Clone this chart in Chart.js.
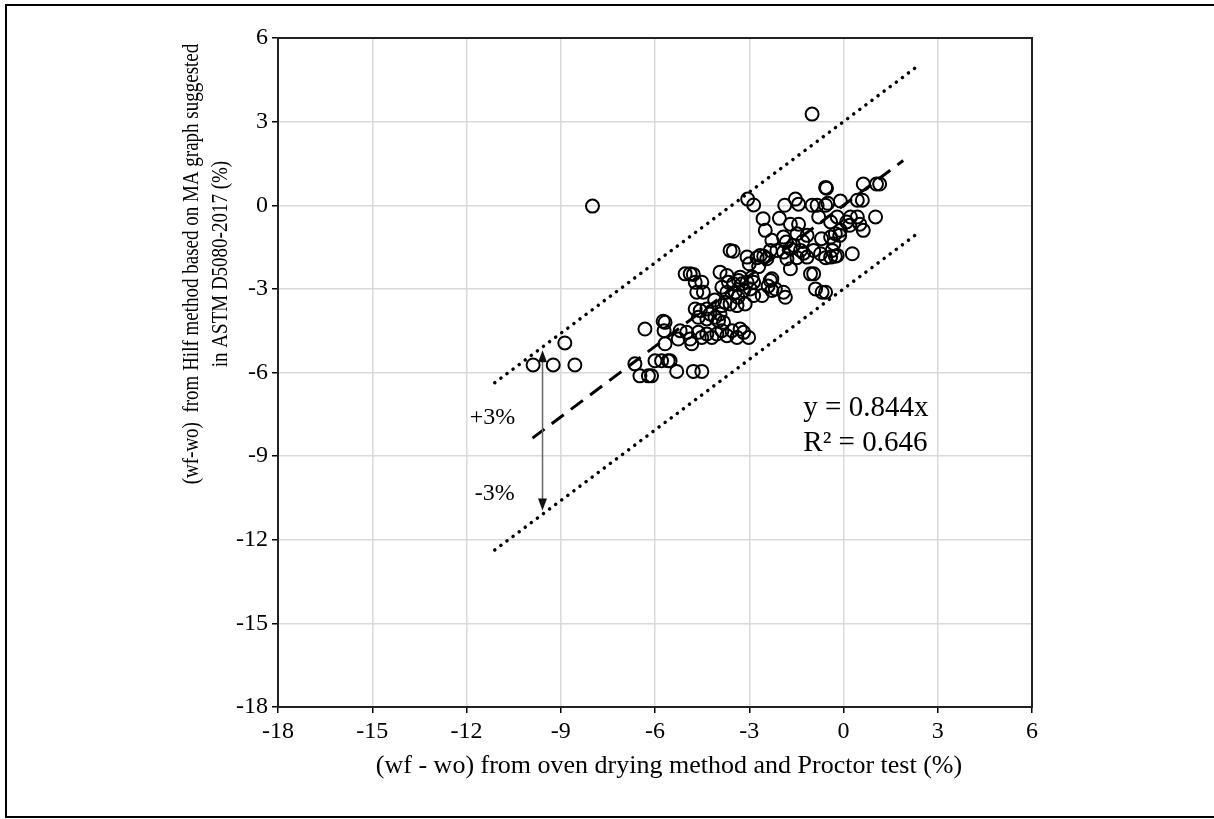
<!DOCTYPE html>
<html>
<head>
<meta charset="utf-8">
<script src="https://cdn.jsdelivr.net/npm/chart.js@4.4.0/dist/chart.umd.min.js"></script>
<style>
    html, body { margin: 0; padding: 0; background: #fff; overflow: hidden; }
    #wrap { position: relative; width: 1214px; height: 819px; }
    #frame { position: absolute; left: 5px; top: 4px; width: 1230px; height: 814px; border: 2px solid #000; box-sizing: border-box; }
</style>
</head>
<body>
<div id="wrap">
    <canvas id="hilfChart"></canvas>
    <div id="frame"></div>
</div>
<script>
// measured pairs: oven drying / Proctor (x) vs Hilf method (y), in %
const ovenDiff = [
    -1.00, -7.99, -3.05, -2.86, -0.57, -0.54, 0.63, 1.05, 1.15, 1.02,
    0.44, 0.60, -0.10, -1.53, -1.43, -1.87, -1.00, -0.84, -0.57, -0.50,
    -2.56, -2.49, -2.04, -1.69, -1.43, -0.79, -0.41, -0.20, 0.22, 0.44,
    0.20, 0.52, 0.63, -2.28, -1.91, -1.48, -1.16, -1.82, -1.59, -0.41,
    -0.31, -0.12, -0.36, -0.20, -3.61, -3.51, -3.07, 0.28, -2.75, -2.65,
    -2.54, -2.33, -2.44, -2.12, -1.91, -1.80, -1.69, -1.37, -1.27, -1.16,
    -1.48, -0.95, -0.73, -0.57, -0.41, -0.26, -1.69, -0.95, -1.05, -2.28,
    -3.93, -3.71, -3.29, -2.91, -0.26, -0.10,
    -6.32, -5.74, -5.71, -5.04, -4.88, -4.78, -4.72, -4.51, -4.67, -4.46,
    -3.87, -3.66, -3.50, -3.34, -3.23, -3.07, -2.86,
    -3.71, -3.45, -3.18, -2.97, -2.86, -2.59, -2.33, -2.17, -1.91, -1.85,
    -4.72, -4.56, -4.35, -4.25, -4.62, -4.35, -4.09, -3.93, -3.98, -3.82,
    -3.61, -3.39, -3.13, -3.87, -3.77,
    -5.20, -5.26, -4.99, -4.88, -4.83, -4.62, -4.51, -4.35, -4.19, -4.03,
    -3.87, -3.71, -3.55, -3.39, -3.29, -3.18, -3.02,
    -5.68, -5.68, -6.00, -5.79, -5.58, -5.52, -6.64, -6.48, -6.21, -6.11,
    -5.31, -4.78, -4.51, -8.87, -9.88, -9.24, -8.55, -0.89, -0.68, -0.57,
    -2.28, -3.36, -2.70, -1.30, -0.70, 0.10, -4.10, -3.00, -2.40
];
const hilfDiff = [
    3.27, -0.03, 0.22, 0.01, 0.64, 0.61, 0.76, 0.76, 0.76, -0.42,
    0.18, 0.18, 0.15, 0.22, 0.04, 0.00, 0.00, 0.00, 0.00, 0.07,
    -0.48, -0.90, -0.47, -0.68, -0.68, -0.42, -0.60, -0.42, -0.42, -0.42,
    -0.72, -0.68, -0.90, -1.26, -1.14, -1.02, -1.08, -1.32, -1.44, -1.14,
    -1.38, -1.08, -1.62, -1.80, -1.62, -1.65, -1.86, -1.74, -1.88, -1.80,
    -1.83, -1.62, -1.92, -1.62, -1.68, -1.92, -1.56, -1.62, -1.72, -1.86,
    -1.88, -1.62, -1.74, -1.88, -1.86, -1.83, -2.28, -2.46, -2.46, -2.64,
    -2.40, -2.52, -2.58, -2.58, -1.02, -0.90,
    -4.44, -4.16, -4.50, -2.46, -2.46, -2.48, -2.76, -2.76, -3.12, -3.12,
    -2.94, -2.76, -2.82, -2.70, -2.82, -2.76, -2.76,
    -3.12, -3.12, -3.06, -3.00, -3.24, -3.24, -2.70, -3.00, -3.12, -3.30,
    -3.72, -3.78, -3.72, -3.90, -4.02, -4.08, -4.02, -3.90, -4.14, -4.20,
    -3.54, -3.60, -3.54, -3.60, -3.48,
    -4.50, -4.80, -4.56, -4.80, -4.97, -4.56, -4.74, -4.62, -4.74, -4.62,
    -4.50, -4.68, -4.50, -4.74, -4.44, -4.56, -4.74,
    -4.20, -4.97, -5.58, -5.58, -5.58, -5.58, -5.69, -6.12, -6.12, -6.12,
    -5.96, -5.96, -5.96, -4.94, -5.73, -5.73, -5.73, -3.00, -3.12, -3.12,
    -3.06, -3.30, -2.20, -1.30, -1.20, -0.60, -3.40, -2.10, -2.90
];

// fitted line through origin and the +/-3% band
const slope = 0.844;
const rSquared = 0.646;
const band = 3;
const trendRange = [-9.9, 1.9];
const bandRange = [-11.1, 2.45];

// double arrow marking the band width, and its labels
const arrowX = -9.58;
const arrowRange = [-5.2, -10.95];
const plusLabel = { x: -11.17, y: -7.63, text: '+3%' };
const minusLabel = { x: -11.1, y: -10.36, text: '-3%' };
const eqLabel = { x: -1.28, y: [-7.3, -8.53] };

const serif = "'Liberation Serif', 'Times New Roman', serif";

const points = ovenDiff.map(function (v, i) {
    return { x: v, y: hilfDiff[i] };
});

function lineFrom(range, shift) {
    return range.map(function (v) {
        return { x: v, y: slope * v + shift };
    });
}

const extras = {
    id: 'extras',
    afterDatasetsDraw(chart) {
        const { ctx, chartArea, scales } = chart;
        const x = scales.x, y = scales.y;
        ctx.save();

        // plot frame
        ctx.strokeStyle = '#222';
        ctx.lineWidth = 2;
        ctx.strokeRect(chartArea.left, chartArea.top, chartArea.width, chartArea.height);

        // arrow between the two dotted lines
        const ax = x.getPixelForValue(arrowX);
        const top = y.getPixelForValue(arrowRange[0]);
        const bottom = y.getPixelForValue(arrowRange[1]);
        ctx.strokeStyle = '#666';
        ctx.lineWidth = 1.5;
        ctx.beginPath();
        ctx.moveTo(ax, top + 10);
        ctx.lineTo(ax, bottom - 10);
        ctx.stroke();
        ctx.fillStyle = '#111';
        ctx.beginPath();
        ctx.moveTo(ax, top);
        ctx.lineTo(ax - 4.5, top + 12);
        ctx.lineTo(ax + 4.5, top + 12);
        ctx.closePath();
        ctx.fill();
        ctx.beginPath();
        ctx.moveTo(ax, bottom);
        ctx.lineTo(ax - 4.5, bottom - 12);
        ctx.lineTo(ax + 4.5, bottom - 12);
        ctx.closePath();
        ctx.fill();

        // band labels
        ctx.fillStyle = '#000';
        ctx.textAlign = 'center';
        ctx.textBaseline = 'middle';
        ctx.font = '24px ' + serif;
        [plusLabel, minusLabel].forEach(function (l) {
            ctx.fillText(l.text, x.getPixelForValue(l.x), y.getPixelForValue(l.y));
        });

        // regression equation
        ctx.textAlign = 'left';
        ctx.font = '29px ' + serif;
        const ex = x.getPixelForValue(eqLabel.x);
        ctx.fillText('y = ' + slope.toFixed(3) + 'x', ex, y.getPixelForValue(eqLabel.y[0]));
        ctx.fillText('R\u00B2 = ' + rSquared.toFixed(3), ex, y.getPixelForValue(eqLabel.y[1]));
        ctx.restore();
    },
    afterDraw(chart) {
        const ctx = chart.ctx;
        ctx.save();
        ctx.fillStyle = '#000';
        ctx.textAlign = 'center';
        ctx.textBaseline = 'middle';
        ctx.font = '26px ' + serif;
        ctx.fillText('(wf - wo) from oven drying method and Proctor test (%)', 669, 766);

        // two-line y title, read bottom to top, letters set a little taller
        ctx.font = '19px ' + serif;
        ctx.translate(0, 264);
        ctx.scale(1.2, 1);
        ctx.rotate(-Math.PI / 2);
        ctx.fillText('(wf-wo)  from Hilf method based on MA graph suggested', 0, 160);
        ctx.fillText('in ASTM D5080-2017 (%)', 0, 184);
        ctx.restore();
    }
};

const tickFont = { family: serif, size: 24 };

new Chart(document.getElementById('hilfChart'), {
    type: 'scatter',
    data: {
        datasets: [{
            type: 'line',
            data: lineFrom(trendRange, 0),
            borderColor: '#000',
            borderWidth: 3,
            borderDash: [15, 9],
            pointRadius: 0,
            fill: false
        }, {
            type: 'line',
            data: lineFrom(bandRange, band),
            borderColor: '#000',
            borderWidth: 3.5,
            borderDash: [0.1, 7.5],
            borderCapStyle: 'round',
            pointRadius: 0,
            fill: false
        }, {
            type: 'line',
            data: lineFrom(bandRange, -band),
            borderColor: '#000',
            borderWidth: 3.5,
            borderDash: [0.1, 7.5],
            borderCapStyle: 'round',
            pointRadius: 0,
            fill: false
        }, {
            data: points,
            pointStyle: 'circle',
            pointRadius: 6.5,
            pointBorderWidth: 2,
            pointBorderColor: '#000',
            pointBackgroundColor: 'rgba(0,0,0,0)',
            pointHoverRadius: 6.5
        }]
    },
    plugins: [extras],
    options: {
        responsive: true,
        maintainAspectRatio: false,
        animation: false,
        events: [],
        layout: { padding: { top: 38, right: 182, bottom: 0, left: 0 } },
        plugins: {
            legend: { display: false },
            tooltip: { enabled: false }
        },
        scales: {
            x: {
                type: 'linear',
                min: -18,
                max: 6,
                afterFit: function (scale) { scale.height = 112; },
                ticks: { stepSize: 3, color: '#000', font: tickFont, padding: 4 },
                grid: { color: '#d9d9d9', lineWidth: 1.5, tickColor: '#000', tickLength: 6 },
                border: { color: '#000', width: 2 }
            },
            y: {
                type: 'linear',
                min: -18,
                max: 6,
                afterFit: function (scale) { scale.width = 278; },
                ticks: { stepSize: 3, color: '#000', font: tickFont, padding: 4 },
                grid: { color: '#d9d9d9', lineWidth: 1.5, tickColor: '#000', tickLength: 6 },
                border: { color: '#000', width: 2 }
            }
        }
    }
});
</script>
</body>
</html>
